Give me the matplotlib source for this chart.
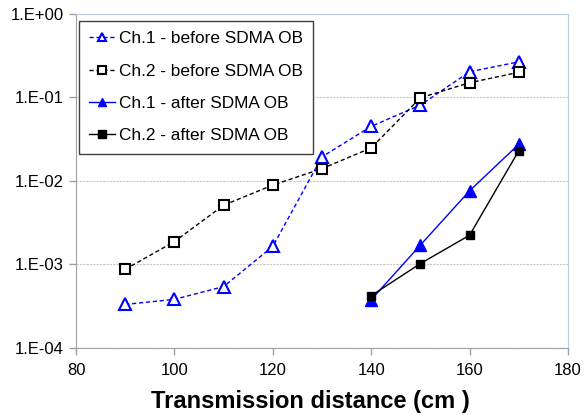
import matplotlib
matplotlib.use("Agg")
import matplotlib.pyplot as plt
from matplotlib.ticker import FixedLocator, FixedFormatter, NullLocator

plt.rcParams['font.family'] = ['Liberation Sans', 'DejaVu Sans']

x_before = [90, 100, 110, 120, 130, 140, 150, 160, 170]
ch1_before = [3.3e-4, 3.8e-4, 5.4e-4, 1.64e-3, 0.0194, 0.045, 0.081, 0.203, 0.267]
ch2_before = [8.7e-4, 1.87e-3, 5.1e-3, 8.9e-3, 0.014, 0.0248, 0.099, 0.15, 0.20]
x_after = [140, 150, 160, 170]
ch1_after = [3.76e-4, 1.7e-3, 7.6e-3, 0.0275]
ch2_after = [4.2e-4, 1.02e-3, 2.23e-3, 0.023]

labels = ["Ch.1 - before SDMA OB", "Ch.2 - before SDMA OB",
          "Ch.1 - after SDMA OB", "Ch.2 - after SDMA OB"]
xticks = [80, 100, 120, 140, 160, 180]
yticks = [1e-4, 1e-3, 1e-2, 1e-1, 1e0]
yticklabels = ["1.E-04", "1.E-03", "1.E-02", "1.E-01", "1.E+00"]
xlabel = "Transmission distance (cm )"

fig = plt.figure(figsize=(5.84, 4.15), dpi=100)
ax = fig.add_axes([76/584, 1-347.7/415, (568-76)/584, (347.7-14)/415])

ax.plot(x_before, ch1_before, color='#0000FF', ls=(0, (3, 2)), lw=1.0, marker='^',
        mfc='white', mec='#0000FF', mew=1.5, ms=8, label=labels[0])
ax.plot(x_before, ch2_before, color='#000000', ls=(0, (3, 2)), lw=1.0, marker='s',
        mfc='white', mec='#000000', mew=1.5, ms=6.5, label=labels[1])
ax.plot(x_after, ch1_after, color='#0000FF', ls='-', lw=1.0, marker='^',
        mfc='#0000FF', mec='#0000FF', ms=9, label=labels[2])
ax.plot(x_after, ch2_after, color='#000000', ls='-', lw=1.0, marker='s',
        mfc='#000000', mec='#000000', ms=6, label=labels[3])

ax.set_yscale('log')
ax.set_xlim(80, 180)
ax.set_ylim(1e-4, 1e0)
ax.xaxis.set_major_locator(FixedLocator(xticks))
ax.yaxis.set_major_locator(FixedLocator(yticks))
ax.yaxis.set_major_formatter(FixedFormatter(yticklabels))
ax.yaxis.set_minor_locator(NullLocator())
ax.tick_params(axis='both', labelsize=12, color='#A0A0A0', length=5, width=1, pad=4)
ax.tick_params(axis='x', pad=6)
ax.grid(axis='y', color='#C8C8C8', ls=(0, (2, 1)), lw=0.8)
ax.set_axisbelow(True)
for s in ['left', 'bottom']:
    ax.spines[s].set_color('#A0A0A0')
for s in ['top', 'right']:
    ax.spines[s].set_color('#B8CCE4')
ax.set_xlabel(xlabel, fontsize=17, fontweight='bold', labelpad=9)
ax.xaxis.label.set_x((310 - 76) / 492)

leg = fig.legend(loc='upper left', bbox_to_anchor=(79/584, 1-21/415), borderaxespad=0,
                 fontsize=12.4, handlelength=1.5, handletextpad=0.2, labelspacing=1.0,
                 fancybox=False, framealpha=1, edgecolor='#404040', borderpad=0.6)
leg.get_frame().set_linewidth(1.0)
for h in leg.legend_handles:
    h.set_markersize(6)

fig.savefig('out.png', dpi=100)
